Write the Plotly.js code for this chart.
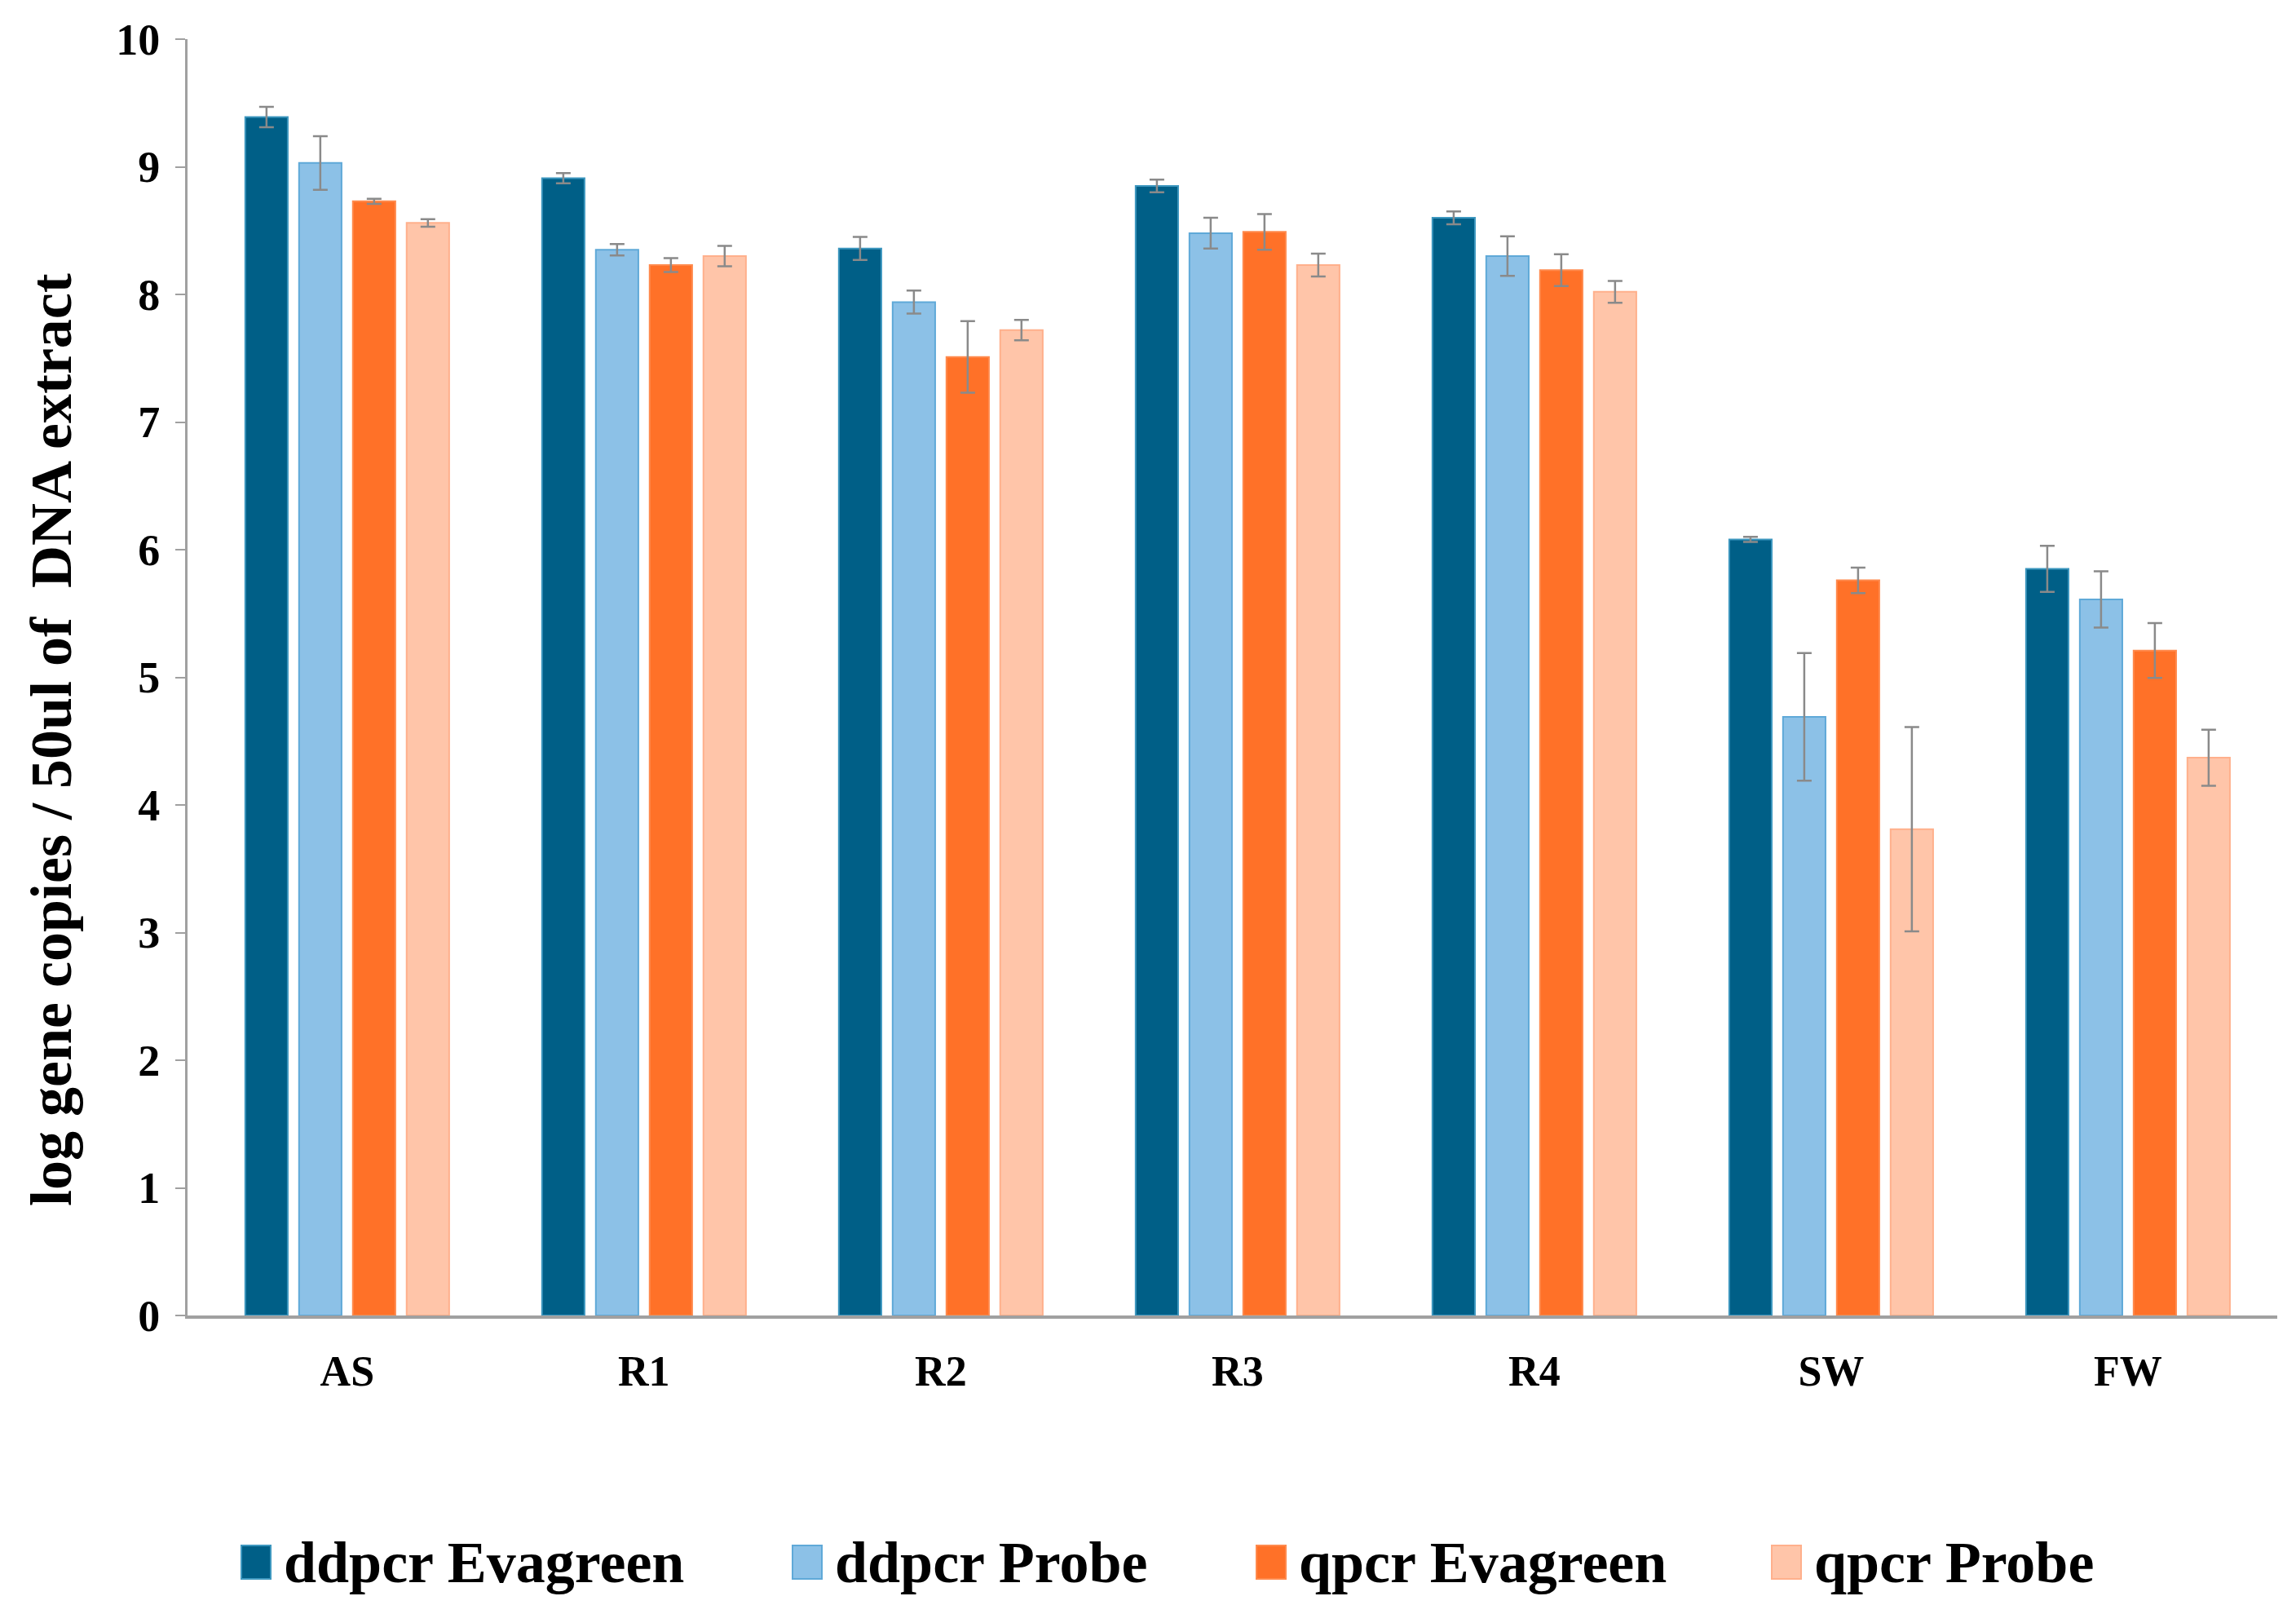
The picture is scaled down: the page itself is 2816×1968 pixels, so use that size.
<!DOCTYPE html>
<html>
<head>
<meta charset="utf-8">
<script src="https://cdn.plot.ly/plotly-3.0.1.min.js"></script>
<style>html,body{margin:0;padding:0;background:#fff;}#chart{width:2816px;height:1968px;}</style>
</head>
<body>
<div id="chart"></div>
<script>
const categories = ['AS', 'R1', 'R2', 'R3', 'R4', 'SW', 'FW'];
const seriesNames = ['ddpcr Evagreen', 'ddpcr Probe', 'qpcr Evagreen', 'qpcr Probe'];
const ddpcrEvagreen    = [9.39, 8.91, 8.36, 8.85, 8.60, 6.08, 5.85];
const ddpcrEvagreenErr = [0.08, 0.04, 0.09, 0.05, 0.05, 0.02, 0.18];
const ddpcrProbe       = [9.03, 8.35, 7.94, 8.48, 8.30, 4.69, 5.61];
const ddpcrProbeErr    = [0.21, 0.045, 0.09, 0.12, 0.155, 0.50, 0.22];
const qpcrEvagreen     = [8.73, 8.23, 7.51, 8.49, 8.19, 5.76, 5.21];
const qpcrEvagreenErr  = [0.02, 0.055, 0.28, 0.14, 0.125, 0.10, 0.215];
const qpcrProbe        = [8.56, 8.30, 7.72, 8.23, 8.02, 3.81, 4.37];
const qpcrProbeErr     = [0.03, 0.08, 0.08, 0.09, 0.085, 0.80, 0.22];
const yTickVals = [0, 1, 2, 3, 4, 5, 6, 7, 8, 9, 10];
const yTitle = 'log gene copies / 50ul of \u00a0DNA extract';

const values = [ddpcrEvagreen, ddpcrProbe, qpcrEvagreen, qpcrProbe];
const errors = [ddpcrEvagreenErr, ddpcrProbeErr, qpcrEvagreenErr, qpcrProbeErr];
const fills = ['#005f87', '#8cc1e7', '#ff7128', '#ffc5a9'];
const outlines = ['#3d97bf', '#5fa9d8', '#ff8a4d', '#ffb08c'];

const W = 2816, H = 1968;
const M = {l: 230, r: 23, t: 48, b: 355};
const pw = W - M.l - M.r, ph = H - M.t - M.b;
const px = x => (x - M.l) / pw;
const py = y => (H - M.b - y) / ph;

const FONT = 'Liberation Serif, Times New Roman, serif';

const traces = values.map((v, i) => ({
  type: 'bar',
  name: seriesNames[i],
  x: categories,
  y: v,
  marker: {color: fills[i], line: {color: outlines[i], width: 2}},
  error_y: {type: 'data', array: errors[i], visible: true, color: '#8a8a8a', thickness: 2.5, width: 9},
  showlegend: false,
  hoverinfo: 'x+y'
}));

// custom legend
const legendMarkX = [296, 972, 1541, 2173];
const legendY = 1916;
const shapes = [];
const annotations = [];
seriesNames.forEach((n, i) => {
  shapes.push({type: 'rect', xref: 'paper', yref: 'paper',
    x0: px(legendMarkX[i]), x1: px(legendMarkX[i] + 36),
    y0: py(legendY - 21), y1: py(legendY + 20),
    fillcolor: fills[i], line: {color: outlines[i], width: 2}});
  annotations.push({xref: 'paper', yref: 'paper', x: px(legendMarkX[i] + 50), y: py(legendY),
    xanchor: 'left', yanchor: 'middle', showarrow: false, text: '<b>' + n + '</b>',
    font: {family: FONT, size: 72, color: '#000'}});
});
annotations.push({xref: 'paper', yref: 'paper', x: px(63), y: py(907), textangle: -90,
  xanchor: 'center', yanchor: 'middle', showarrow: false, text: '<b>' + yTitle + '</b>',
  font: {family: FONT, size: 72, color: '#000'}});

const layout = {
  width: W, height: H,
  margin: M,
  paper_bgcolor: '#fff', plot_bgcolor: '#fff',
  barmode: 'group', bargap: 0.275, bargroupgap: 0.21,
  showlegend: false,
  xaxis: {
    type: 'category', range: [-0.538, 6.503], showgrid: false, zeroline: false,
    showline: true, linecolor: '#a0a0a0', linewidth: 4,
    ticks: '', ticklabelstandoff: 20,
    tickfont: {family: FONT, size: 52, color: '#000'},
    tickvals: categories, ticktext: categories.map(c => '<b>' + c + '</b>')
  },
  yaxis: {
    range: [0, 10], tickvals: yTickVals, ticktext: yTickVals.map(v => '<b>' + v + '</b>'),
    showgrid: false, zeroline: false,
    showline: true, linecolor: '#a0a0a0', linewidth: 3,
    ticks: 'outside', ticklen: 12, tickwidth: 2, tickcolor: '#a0a0a0',
    ticklabelstandoff: 8,
    tickfont: {family: FONT, size: 54, color: '#000'}
  },
  shapes: shapes,
  annotations: annotations
};

Plotly.newPlot('chart', traces, layout, {displayModeBar: false, staticPlot: true});
</script>
</body>
</html>
